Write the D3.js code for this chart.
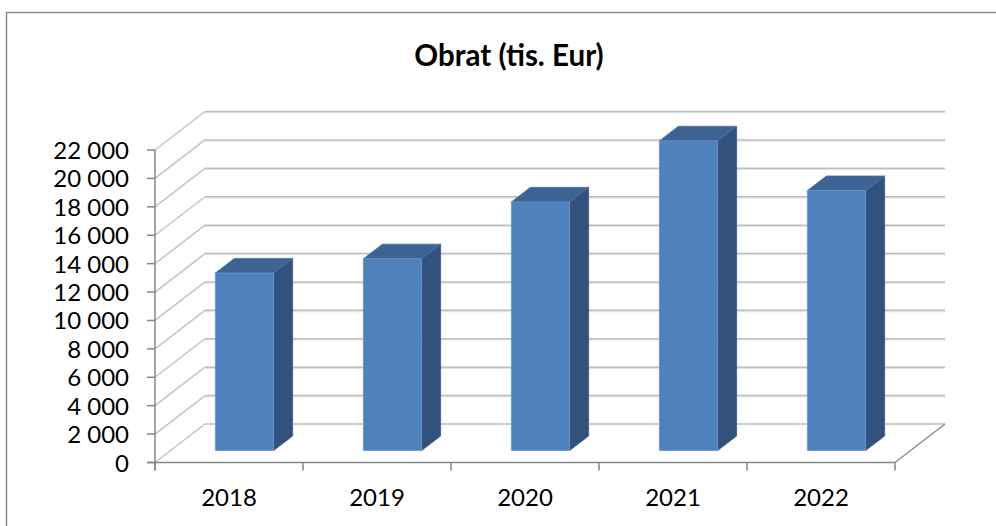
<!DOCTYPE html>
<html>
<head>
<meta charset="utf-8">
<script src="https://cdnjs.cloudflare.com/ajax/libs/d3/7.8.5/d3.min.js"></script>
<style>
  html, body { margin: 0; padding: 0; background: #fff; }
  svg { display: block; }
</style>
</head>
<body>
<svg id="chart" width="996" height="526"></svg>
<script>
// ---- data ----
const title = "Obrat (tis. Eur)";
const categories = ["2018", "2019", "2020", "2021", "2022"];
const values = [12500, 13500, 17500, 21800, 18300];
const yTicks = [0, 2000, 4000, 6000, 8000, 10000, 12000, 14000, 16000, 18000, 20000, 22000];

// ---- layout ----
const W = 996, H = 526;
const plot = { left: 155, right: 895, bottom: 462.5, top: 150 };
const depth = { dx: 50, dy: -38.5 };     // full depth offset of the 3D box
const barDepthFront = 0.31, barDepthBack = 0.69;
const barWidthFrac = 0.394;

const fmt = d3.formatLocale({ decimal: ",", thousands: " ", grouping: [3], currency: ["", ""] }).format(",");

const svg = d3.select("#chart");

// frame
svg.append("rect").attr("x", 6.5).attr("y", 12.5).attr("width", 1100).attr("height", 700)
  .attr("fill", "#fff").attr("stroke", "#8c8c8c").attr("stroke-width", 1.5);

const x = d3.scaleBand().domain(categories).range([plot.left, plot.right]).paddingInner(0).paddingOuter(0);
const y = d3.scaleLinear().domain([0, 22000]).range([plot.bottom, plot.top]);

// title
svg.append("text").attr("x", 509).attr("y", 66).attr("text-anchor", "middle")
  .attr("font-family", "Lato, 'Open Sans', sans-serif").attr("font-weight", "bold")
  .attr("font-size", 29.5).attr("fill", "#000").text(title);

const grid = svg.append("g");
// back wall gridlines (with slight shadow)
yTicks.forEach(t => {
  const yy = y(t) + depth.dy;
  if (t > 0) {
    grid.append("line").attr("x1", plot.left + depth.dx).attr("x2", plot.right + depth.dx)
      .attr("y1", yy + 1.2).attr("y2", yy + 1.2).attr("stroke", "#e4e4e4").attr("stroke-width", 1.2);
  }
  grid.append("line").attr("x1", plot.left + depth.dx).attr("x2", plot.right + depth.dx)
    .attr("y1", yy).attr("y2", yy).attr("stroke", "#bdbdbd").attr("stroke-width", 1.5);
  // side wall diagonal
  grid.append("line").attr("x1", plot.left).attr("y1", y(t))
    .attr("x2", plot.left + depth.dx).attr("y2", yy).attr("stroke", "#c4c4c4").attr("stroke-width", 1.5);
});
// floor right edge
grid.append("line").attr("x1", plot.right).attr("y1", plot.bottom)
  .attr("x2", plot.right + depth.dx).attr("y2", plot.bottom + depth.dy)
  .attr("stroke", "#8c8c8c").attr("stroke-width", 1.5);

// bars
const bw = x.bandwidth() * barWidthFrac;
const bdx = (barDepthBack - barDepthFront) * depth.dx;
const bdy = (barDepthBack - barDepthFront) * depth.dy;
const ox = barDepthFront * depth.dx, oy = barDepthFront * depth.dy;

const bars = svg.append("g").selectAll("g").data(categories.map((c, i) => ({ c, v: values[i] }))).join("g");
bars.each(function (d) {
  const g = d3.select(this);
  const x0 = x(d.c) + (x.bandwidth() - bw) / 2 + ox;
  const x1 = x0 + bw;
  const yt = y(d.v) + oy, yb = y(0) + oy;
  // side face
  g.append("path").attr("d", `M${x1},${yt}L${x1 + bdx},${yt + bdy}L${x1 + bdx},${yb + bdy}L${x1},${yb}Z`)
    .attr("fill", "#32527d").attr("stroke", "#3a5d8c").attr("stroke-width", 0.8);
  // top face
  g.append("path").attr("d", `M${x0},${yt}L${x0 + bdx},${yt + bdy}L${x1 + bdx},${yt + bdy}L${x1},${yt}Z`)
    .attr("fill", "#3c6391").attr("stroke", "#4a72a4").attr("stroke-width", 0.8);
  // front face
  g.append("rect").attr("x", x0).attr("y", yt).attr("width", bw).attr("height", yb - yt)
    .attr("fill", "#4f81bd").attr("stroke", "#6a95c9").attr("stroke-width", 0.8);
});

// axes
const axisColor = "#868686";
const axes = svg.append("g");
axes.append("line").attr("x1", plot.left).attr("x2", plot.left).attr("y1", y(22000)).attr("y2", plot.bottom + 8)
  .attr("stroke", axisColor).attr("stroke-width", 1.5);
axes.append("line").attr("x1", plot.left - 8).attr("x2", plot.right).attr("y1", plot.bottom).attr("y2", plot.bottom)
  .attr("stroke", axisColor).attr("stroke-width", 1.5);
yTicks.forEach(t => {
  axes.append("line").attr("x1", plot.left - 8).attr("x2", plot.left).attr("y1", y(t)).attr("y2", y(t))
    .attr("stroke", axisColor).attr("stroke-width", 1.5);
  axes.append("text").attr("x", 129).attr("y", y(t) + 9).attr("text-anchor", "end")
    .attr("font-family", "Lato, 'Open Sans', sans-serif").attr("font-size", 24).attr("fill", "#000")
    .text(fmt(t));
});
const xTickPos = categories.map(c => x(c)).concat([plot.right]);
xTickPos.forEach(px => {
  axes.append("line").attr("x1", px).attr("x2", px).attr("y1", plot.bottom).attr("y2", plot.bottom + 8)
    .attr("stroke", axisColor).attr("stroke-width", 1.5);
});
categories.forEach(c => {
  axes.append("text").attr("x", x(c) + x.bandwidth() / 2).attr("y", 506).attr("text-anchor", "middle")
    .attr("font-family", "Lato, 'Open Sans', sans-serif").attr("font-size", 24).attr("fill", "#000")
    .text(c);
});
</script>
</body>
</html>
